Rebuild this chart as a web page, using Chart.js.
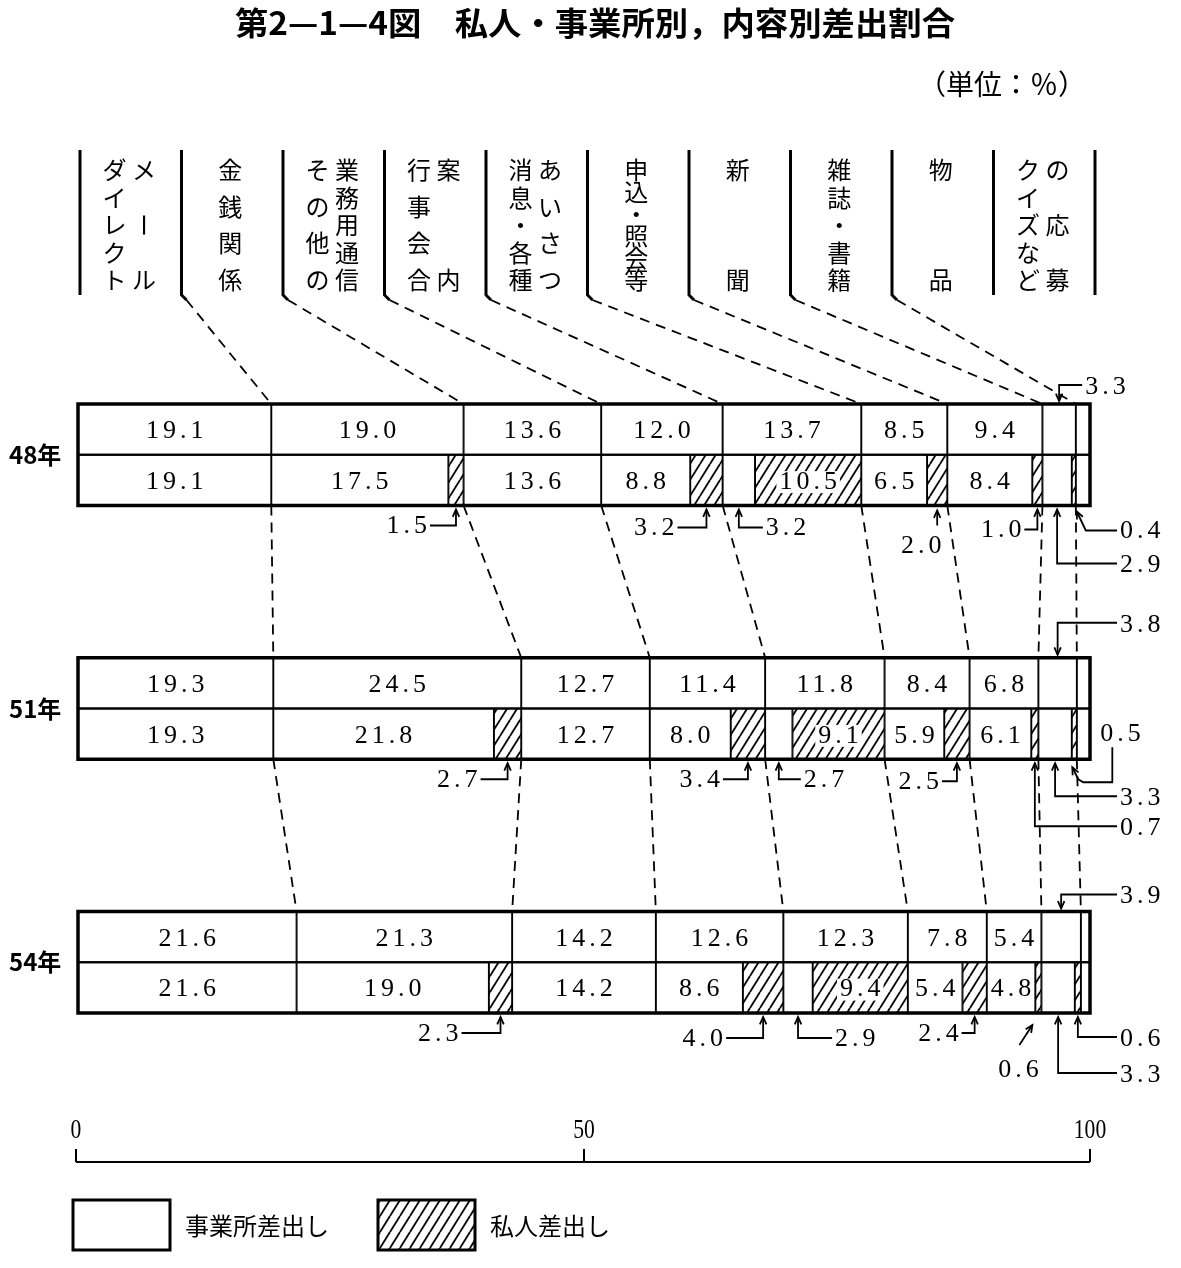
<!DOCTYPE html>
<html>
<head>
<meta charset="utf-8">
<script src="https://cdn.jsdelivr.net/npm/chart.js@4/dist/chart.umd.min.js"></script>
<style>
html,body{margin:0;padding:0;background:#fff;}
canvas{display:block;}
</style>
</head>
<body>
<canvas id="c" width="1181" height="1268"></canvas>
<script>
// ---------------- DATA ----------------
const years = ['48年', '51年', '54年'];
const categories = ['ダイレクトメール', '金銭関係', 'その他の業務用通信', '行事案内・会合', 'あいさつ・各種消息', '申込・照会等', '新聞', '雑誌・書籍', '物品・クイズなど'];
const total48    = [19.1, 19.0, 13.6, 12.0, 13.7, 8.5, 9.4, 3.3, 1.4];
const business48 = [19.1, 17.5, 13.6,  8.8,  3.2, 6.5, 8.4, 2.9, 1.4];
const private48  = [0,     1.5,  0,    3.2, 10.5, 2.0, 1.0, 0.4, 0];
const total51    = [19.3, 24.5, 12.7, 11.4, 11.8, 8.4, 6.8, 3.8, 1.3];
const business51 = [19.3, 21.8, 12.7,  8.0,  2.7, 5.9, 6.1, 3.3, 1.3];
const private51  = [0,     2.7,  0,    3.4,  9.1, 2.5, 0.7, 0.5, 0];
const total54    = [21.6, 21.3, 14.2, 12.6, 12.3, 7.8, 5.4, 3.9, 0.9];
const business54 = [21.6, 19.0, 14.2,  8.6,  2.9, 5.4, 4.8, 3.3, 0.9];
const private54  = [0,     2.3,  0,    4.0,  9.4, 2.4, 0.6, 0.6, 0];
const axisTicks = [0, 50, 100];
const headerColumns = [['メール','ダイレクト'], ['金銭関係'], ['業務用通信','その他の'], ['案内','行事会合'], ['あいさつ','消息・各種'], ['申込・照会等'], ['新聞'], ['雑誌・書籍'], ['物品'], ['の応募','クイズなど']];
const legendLabels = ['事業所差出し', '私人差出し'];
const titleText = '第2—1—4図　私人・事業所別，内容別差出割合';
const unitText = '（単位：％）';

const totals = [total48, total51, total54];
const business = [business48, business51, business54];
const privates = [private48, private51, private54];

// ---------------- LAYOUT ----------------
const SLOTS = 12;
const yearSlot = [0, 5, 10];
const slotLabels = [];
for (let s = 0; s < SLOTS; s++) {
  let l = '';
  yearSlot.forEach((ys, y) => { if (s === ys) l = years[y] + '計'; if (s === ys + 1) l = years[y] + '内訳'; });
  slotLabels.push(l);
}

// hatch pattern
function makeHatch() {
  const w = 10, h = 16;
  const c = document.createElement('canvas');
  c.width = w; c.height = h;
  const g = c.getContext('2d');
  g.fillStyle = '#fff'; g.fillRect(0, 0, w, h);
  g.strokeStyle = '#000'; g.lineWidth = 1.8;
  for (const x0 of [-w, 0, w]) {
    g.beginPath(); g.moveTo(x0, h); g.lineTo(x0 + w, 0); g.stroke();
  }
  return document.getElementById('c').getContext('2d').createPattern(c, 'repeat');
}
const hatch = makeHatch();

const datasets = [];
categories.forEach((cat, c) => {
  ['biz', 'priv'].forEach(part => {
    const data = new Array(SLOTS).fill(null);
    years.forEach((yr, y) => {
      const s = yearSlot[y];
      if (part === 'biz') { data[s] = totals[y][c]; data[s + 1] = business[y][c]; }
      else { data[s + 1] = privates[y][c] > 0 ? privates[y][c] : null; }
    });
    datasets.push({
      label: cat + (part === 'biz' ? '（事業所差出し）' : '（私人差出し）'),
      data, part, cat: c,
      backgroundColor: part === 'biz' ? '#ffffff' : hatch,
      borderColor: '#000', borderWidth: 1.3, borderSkipped: false,
      barPercentage: 1, categoryPercentage: 1, stack: 's'
    });
  });
});

// callouts: year, category, part, style
const callouts = [
  {y:0,c:1,p:'priv',t:'L',ly:20,len:26},
  {y:0,c:3,p:'priv',t:'L',ly:22,len:29},
  {y:0,c:4,p:'biz',t:'R',ly:22,len:24},
  {y:0,c:5,p:'priv',t:'B',ly:20,tdx:-16,tdy:41},
  {y:0,c:6,p:'priv',t:'L',ly:24,len:13},
  {y:0,c:7,p:'priv',t:'S',ly:25},
  {y:0,c:7,p:'biz',t:'RR',ly:58},
  {y:0,c:7,p:'tot',t:'D',ly:19,tx:26},
  {y:1,c:1,p:'priv',t:'L',ly:20,len:27},
  {y:1,c:3,p:'priv',t:'L',ly:20,len:25},
  {y:1,c:4,p:'biz',t:'R',ly:20,len:22},
  {y:1,c:5,p:'priv',t:'L',ly:22,len:15},
  {y:1,c:6,p:'priv',t:'RR',ly:67},
  {y:1,c:7,p:'biz',t:'RR',ly:37},
  {y:1,c:7,p:'priv',t:'O'},
  {y:1,c:7,p:'tot',t:'D',ly:35},
  {y:2,c:1,p:'priv',t:'L',ly:20,len:39},
  {y:2,c:3,p:'priv',t:'L',ly:25,len:37},
  {y:2,c:4,p:'biz',t:'R',ly:25,len:34},
  {y:2,c:5,p:'priv',t:'L',ly:20,len:13},
  {y:2,c:6,p:'priv',t:'G'},
  {y:2,c:7,p:'biz',t:'RR',ly:60},
  {y:2,c:7,p:'priv',t:'RR',ly:24},
  {y:2,c:7,p:'tot',t:'D',ly:17}
];

const NUM_FONT = '26px "Liberation Serif"';
const CJK = '"Noto Sans CJK JP"';

function numText(ctx, str, x, y, align) {
  ctx.save();
  ctx.font = NUM_FONT;
  ctx.letterSpacing = '4px';
  ctx.textAlign = align;
  ctx.textBaseline = 'middle';
  ctx.fillStyle = '#000';
  let dx = 0;
  if (align === 'center') dx = 2;
  if (align === 'right') dx = 4;
  ctx.fillText(str, x + dx, y);
  ctx.restore();
}

function arrowHead(ctx, fx, fy, tx, ty) {
  const a = Math.atan2(ty - fy, tx - fx), L = 8, sp = 0.42;
  ctx.beginPath();
  ctx.moveTo(tx - L * Math.cos(a - sp), ty - L * Math.sin(a - sp));
  ctx.lineTo(tx, ty);
  ctx.lineTo(tx - L * Math.cos(a + sp), ty - L * Math.sin(a + sp));
  ctx.stroke();
}
function leader(ctx, pts) {
  ctx.beginPath();
  ctx.moveTo(pts[0][0], pts[0][1]);
  for (let i = 1; i < pts.length; i++) ctx.lineTo(pts[i][0], pts[i][1]);
  ctx.stroke();
  arrowHead(ctx, pts[1][0], pts[1][1], pts[0][0], pts[0][1]);
}

const decor = {
  id: 'decor',
  afterDatasetsDraw(chart) {
    const ctx = chart.ctx;
    const xs = chart.scales.x, ys = chart.scales.y;
    const step = (ys.bottom - ys.top) / SLOTS;
    // labels in cells
    chart.data.datasets.forEach((ds, di) => {
      const meta = chart.getDatasetMeta(di);
      ds.data.forEach((v, s) => {
        if (v == null || v < 4.5) return;
        const el = meta.data[s];
        const cx = (el.x + el.base) / 2, cy = el.y + 2;
        const str = v.toFixed(1);
        if (ds.part === 'priv') {
          ctx.save();
          ctx.font = NUM_FONT; ctx.letterSpacing = '4px';
          const w = ctx.measureText(str).width;
          ctx.fillStyle = '#fff';
          ctx.fillRect(cx - w / 2 - 1, cy - 11, w + 2, 22);
          ctx.restore();
        }
        numText(ctx, str, cx, cy, 'center');
      });
    });
    // outlines
    ctx.save();
    ctx.strokeStyle = '#000';
    years.forEach((yr, y) => {
      const top = ys.getPixelForValue(yearSlot[y]) - step / 2;
      const mid = top + step;
      const bot = top + 2 * step;
      ctx.lineWidth = 3.5;
      ctx.strokeRect(xs.left, top, xs.right - xs.left, bot - top);
      ctx.lineWidth = 2;
      ctx.beginPath(); ctx.moveTo(xs.left, mid); ctx.lineTo(xs.right, mid); ctx.stroke();
    });
    ctx.restore();
  },
  afterDraw(chart) {
    const ctx = chart.ctx;
    const xs = chart.scales.x, ys = chart.scales.y;
    const step = (ys.bottom - ys.top) / SLOTS;
    const rowTop = y => ys.getPixelForValue(yearSlot[y]) - step / 2;
    const rowBot = y => rowTop(y) + 2 * step;
    const cum = y => { let s = 0; return totals[y].slice(0, -1).map(v => (s += v)); };

    ctx.save();
    ctx.fillStyle = '#000'; ctx.strokeStyle = '#000';

    // title
    ctx.font = 'bold 31px ' + CJK;
    ctx.textAlign = 'center'; ctx.textBaseline = 'middle';
    const tw = ctx.measureText(titleText).width;
    ctx.save(); ctx.translate(595, 23); ctx.scale(720 / tw, 1.02); ctx.fillText(titleText, 0, 0); ctx.restore();

    // unit
    ctx.font = '28px ' + CJK;
    ctx.textAlign = 'right';
    ctx.fillText(unitText, 1086, 84);

    // header separators and vertical text
    const HL = 80, HW = 101.5, HT = 150, HB = 295;
    ctx.lineWidth = 3;
    for (let i = 0; i <= headerColumns.length; i++) {
      const x = HL + i * HW;
      ctx.beginPath(); ctx.moveTo(x, HT); ctx.lineTo(x, HB);
      if (i >= 1 && i <= 8) ctx.lineTo(x + 5, HB + 5);
      ctx.stroke();
    }
    ctx.font = '24px ' + CJK;
    ctx.textAlign = 'center'; ctx.textBaseline = 'middle';
    headerColumns.forEach((cols, i) => {
      const left = HL + i * HW;
      const xsCol = cols.length === 2 ? [left + 0.63 * HW, left + 0.34 * HW] : [left + 0.48 * HW];
      cols.forEach((str, k) => {
        const chars = [...str], n = chars.length;
        chars.forEach((ch, j) => {
          const yy = n === 1 ? 170 : 170 + (110 * j) / (n - 1);
          if (ch === 'ー') {
            ctx.save(); ctx.translate(xsCol[k], yy); ctx.rotate(Math.PI / 2); ctx.fillText(ch, 0, 0); ctx.restore();
          } else ctx.fillText(ch, xsCol[k], yy);
        });
      });
    });

    // dashed connectors
    ctx.lineWidth = 1.8;
    ctx.setLineDash([10, 7]);
    const c48 = cum(0);
    c48.forEach((v, k) => {
      const sx = HL + (k + 1) * HW + 5;
      ctx.beginPath(); ctx.moveTo(sx, HB + 5); ctx.lineTo(xs.getPixelForValue(v), rowTop(0)); ctx.stroke();
    });
    for (let y = 0; y < years.length - 1; y++) {
      const a = cum(y), b = cum(y + 1);
      a.forEach((v, k) => {
        ctx.beginPath();
        ctx.moveTo(xs.getPixelForValue(v), rowBot(y));
        ctx.lineTo(xs.getPixelForValue(b[k]), rowTop(y + 1));
        ctx.stroke();
      });
    }
    ctx.setLineDash([]);

    // year labels
    ctx.font = 'bold 24px ' + CJK;
    ctx.textAlign = 'left'; ctx.textBaseline = 'middle';
    years.forEach((yr, y) => ctx.fillText(yr, 9, rowTop(y) + step));

    // callouts
    const RX = xs.right + 30;
    ctx.lineWidth = 1.8;
    callouts.forEach(o => {
      const di = o.c * 2 + (o.p === 'priv' ? 1 : 0);
      const slot = yearSlot[o.y] + (o.p === 'tot' ? 0 : 1);
      const el = chart.getDatasetMeta(di).data[slot];
      const cx = (el.x + el.base) / 2;
      const by = rowBot(o.y), ty = rowTop(o.y);
      const src = o.p === 'tot' ? totals : (o.p === 'biz' ? business : privates);
      const val = src[o.y][o.c].toFixed(1);
      let ly;
      switch (o.t) {
        case 'L': ly = by + o.ly; leader(ctx, [[cx, by + 4], [cx, ly], [cx - o.len, ly]]); numText(ctx, val, cx - o.len - 3, ly + 1, 'right'); break;
        case 'R': ly = by + o.ly; leader(ctx, [[cx, by + 4], [cx, ly], [cx + o.len, ly]]); numText(ctx, val, cx + o.len + 3, ly + 1, 'left'); break;
        case 'B': leader(ctx, [[cx, by + 5], [cx, by + o.ly]]); numText(ctx, val, cx + o.tdx, by + o.tdy, 'center'); break;
        case 'RR': ly = by + o.ly; leader(ctx, [[cx, by + 4], [cx, ly], [RX - 3, ly]]); numText(ctx, val, RX, ly + 2, 'left'); break;
        case 'S': ly = by + o.ly; leader(ctx, [[cx + 3, by + 6], [cx + 12, ly], [RX - 3, ly]]); numText(ctx, val, RX, ly + 1, 'left'); break;
        case 'D': { ly = ty - o.ly; const tx = o.tx != null ? cx + o.tx : RX; leader(ctx, [[cx, ty - 3], [cx, ly], [tx - 3, ly]]); numText(ctx, val, tx, ly + 2, 'left'); break; }
        case 'G': leader(ctx, [[cx - 6, by + 12], [cx - 19, by + 32]]); numText(ctx, val, cx - 20, by + 57, 'center'); break;
        case 'O': leader(ctx, [[cx - 2, by + 8], [cx + 4, by + 20], [cx + 9, by + 23], [cx + 38, by + 23], [cx + 38, by - 12]]); numText(ctx, val, cx + 26, by - 25, 'left'); break;
      }
    });

    // axis
    const AY = 1162;
    ctx.lineWidth = 2;
    ctx.beginPath(); ctx.moveTo(xs.getPixelForValue(axisTicks[0]) - 2, AY); ctx.lineTo(xs.getPixelForValue(axisTicks[axisTicks.length - 1]), AY); ctx.stroke();
    ctx.font = '27px "Liberation Serif"';
    ctx.textAlign = 'center'; ctx.textBaseline = 'middle';
    axisTicks.forEach(t => {
      const px = xs.getPixelForValue(t) - (t === 0 ? 2 : 0);
      ctx.beginPath(); ctx.moveTo(px, AY); ctx.lineTo(px, AY - 13); ctx.stroke();
      ctx.save(); ctx.translate(px, AY - 31); ctx.scale(0.8, 1); ctx.fillText(String(t), 0, 0); ctx.restore();
    });

    // legend
    ctx.lineWidth = 3;
    ctx.fillStyle = '#fff';
    ctx.fillRect(73, 1200, 97, 50); ctx.strokeRect(73, 1200, 97, 50);
    ctx.fillStyle = hatch;
    ctx.fillRect(378, 1200, 97, 50); ctx.strokeRect(378, 1200, 97, 50);
    ctx.fillStyle = '#000';
    ctx.font = '24px ' + CJK;
    ctx.textAlign = 'left'; ctx.textBaseline = 'middle';
    ctx.fillText(legendLabels[0], 185, 1226);
    ctx.fillText(legendLabels[1], 490, 1226);

    ctx.restore();
  }
};

new Chart(document.getElementById('c'), {
  type: 'bar',
  data: { labels: slotLabels, datasets },
  options: {
    indexAxis: 'y',
    responsive: false,
    animation: false,
    devicePixelRatio: 1,
    layout: { padding: { left: 78, right: 91, top: 404, bottom: 255 } },
    scales: {
      x: { type: 'linear', min: 0, max: 100, stacked: true, display: false },
      y: { stacked: true, display: false }
    },
    plugins: { legend: { display: false }, tooltip: { enabled: false }, title: { display: false } }
  },
  plugins: [decor]
});
</script>
</body>
</html>
